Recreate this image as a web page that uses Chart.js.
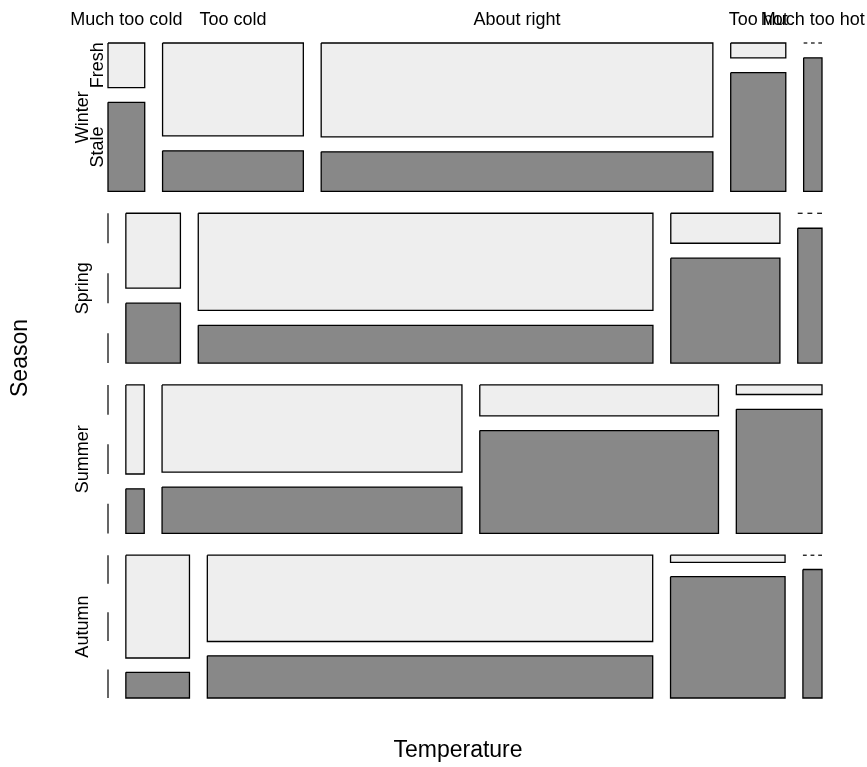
<!DOCTYPE html>
<html>
<head>
<meta charset="utf-8">
<title>Season x Temperature x Freshness</title>
<script src="https://cdn.jsdelivr.net/npm/chart.js@4.4.1/dist/chart.umd.min.js"></script>
<style>
  html, body { margin: 0; padding: 0; background: #fff; }
</style>
</head>
<body>
<canvas id="mosaic" width="867" height="767"></canvas>
<script>
const SEASONS = ["Winter", "Spring", "Summer", "Autumn"];
const TEMPS   = ["Much too cold", "Too cold", "About right", "Too hot", "Much too hot"];
const STATES  = ["Fresh", "Stale"];

// counts per season, one value per temperature level
const winterFresh = [2, 16, 45, 1, 0];
const winterStale = [4, 7, 19, 8, 3];
const springFresh = [0, 5, 54, 4, 0];
const springStale = [0, 4, 21, 14, 4];
const summerFresh = [0, 2, 32, 9, 1];
const summerStale = [0, 1, 17, 30, 13];
const autumnFresh = [0, 8, 47, 1, 0];
const autumnStale = [0, 2, 23, 17, 3];

const FRESH = [winterFresh, springFresh, summerFresh, autumnFresh];
const STALE = [winterStale, springStale, summerStale, autumnStale];

const OFF = 0.1;                       // share of each split left as white space
const FILLS = ["#eeeeee", "#888888"];  // Fresh, Stale
const FONT = "'Liberation Sans', Arial, Helvetica, sans-serif";

const sum = a => a.reduce((s, v) => s + v, 0);

// same spacing rule as R's mosaicplot: tiles get (1-OFF) of the span, gaps share OFF
function split(counts, a, b) {
  const tot = sum(counts);
  const white = OFF * (b - a) / Math.max(1, counts.length - 1);
  const out = [];
  let r = a - white;
  counts.forEach(c => {
    const l = r + white;
    r = l + (1 - OFF) * (tot ? c / tot : 0) * (b - a);
    out.push([l, r]);
  });
  return out;
}

// ---- geometry in unit data coordinates (y grows downwards) ----
const rows = split(SEASONS.map((_, i) => sum(FRESH[i]) + sum(STALE[i])), 0, 1);
const rowCols = rows.map((_, i) => split(TEMPS.map((_, j) => FRESH[i][j] + STALE[i][j]), 0, 1));

const datasets = [];
const dashed = (a, b, horiz, at) => [0, 2, 4].forEach(k => {
  const p = a + (b - a) * k / 5, q = a + (b - a) * (k + 1) / 5;
  datasets.push({
    data: horiz ? [{ x: p, y: at }, { x: q, y: at }] : [{ x: at, y: p }, { x: at, y: q }],
    borderColor: "#000", borderWidth: 1.2, fill: false,
  });
});

let firstCellParts = null;
rows.forEach(([y1, y2], i) => {
  rowCols[i].forEach(([x1, x2], j) => {
    const cell = [FRESH[i][j], STALE[i][j]];
    if (sum(cell) === 0) { dashed(y1, y2, false, x1); return; }
    const parts = split(cell, y1, y2);
    if (i === 0 && j === 0) firstCellParts = parts;
    parts.forEach(([t, b], s) => {
      if (cell[s] === 0) { dashed(x1, x2, true, t); return; }
      datasets.push({
        label: `${SEASONS[i]} / ${TEMPS[j]} / ${STATES[s]}`,
        data: [{ x: x1, y: t }, { x: x2, y: t }, { x: x2, y: b }, { x: x1, y: b }, { x: x1, y: t }],
        borderColor: "#000", borderWidth: 1.3,
        backgroundColor: FILLS[s], fill: "shape",
      });
    });
  });
});

// ---- labels drawn next to the tiles, placed through the chart scales ----
const mosaicLabels = {
  id: "mosaicLabels",
  afterDraw(chart) {
    const { ctx, chartArea: area, scales: { x, y } } = chart;
    ctx.save();
    ctx.fillStyle = "#000";
    ctx.textBaseline = "alphabetic";
    ctx.textAlign = "center";

    ctx.font = `18px ${FONT}`;
    rowCols[0].forEach(([a, b], j) => {
      ctx.fillText(TEMPS[j], x.getPixelForValue((a + b) / 2), area.top - 18);
    });

    const vText = (txt, px, py) => {
      ctx.save();
      ctx.translate(px, py);
      ctx.rotate(-Math.PI / 2);
      ctx.fillText(txt, 0, 0);
      ctx.restore();
    };
    rows.forEach(([a, b], i) => vText(SEASONS[i], area.left - 20, y.getPixelForValue((a + b) / 2)));
    firstCellParts.forEach(([a, b], s) => vText(STATES[s], area.left - 5.5, y.getPixelForValue((a + b) / 2)));

    ctx.font = `23px ${FONT}`;
    ctx.fillText("Temperature", 458, 757);
    vText("Season", 27, 358);
    ctx.restore();
  },
};

new Chart(document.getElementById("mosaic"), {
  type: "line",
  data: { datasets },
  options: {
    responsive: false,
    animation: false,
    events: [],
    layout: { padding: { left: 108, right: 45, top: 43, bottom: 69 } },
    datasets: { line: { pointRadius: 0, tension: 0, clip: false } },
    plugins: { legend: { display: false }, tooltip: { enabled: false } },
    scales: {
      x: { type: "linear", min: 0, max: 1, display: false },
      y: { type: "linear", min: 0, max: 1, reverse: true, display: false },
    },
  },
  plugins: [mosaicLabels],
});
</script>
</body>
</html>
